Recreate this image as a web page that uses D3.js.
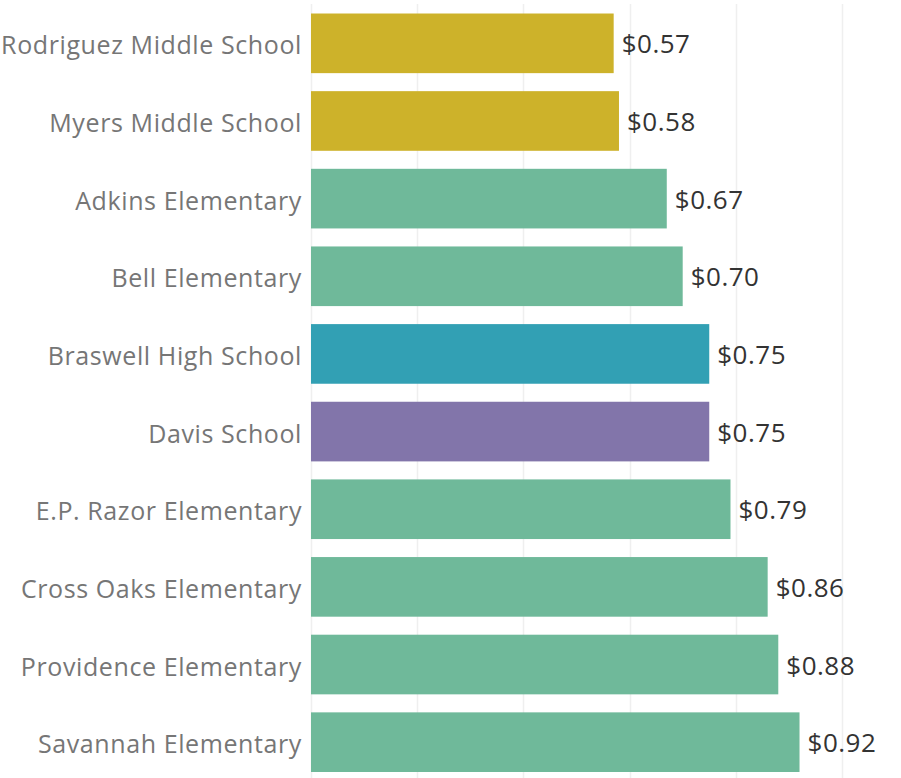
<!DOCTYPE html>
<html><head><meta charset="utf-8">
<script src="https://cdn.jsdelivr.net/npm/d3@7"></script>
<style>body{margin:0;background:#fff}svg{display:block}</style>
</head><body><svg id="c" width="901" height="778"></svg>
<script>
const schools = ["Rodriguez Middle School","Myers Middle School","Adkins Elementary","Bell Elementary","Braswell High School","Davis School","E.P. Razor Elementary","Cross Oaks Elementary","Providence Elementary","Savannah Elementary"];
const values = [0.57,0.58,0.67,0.70,0.75,0.75,0.79,0.86,0.88,0.92];
const types = ["Middle","Middle","Elementary","Elementary","High","Other","Elementary","Elementary","Elementary","Elementary"];
const gridTicks = [0,0.2,0.4,0.6,0.8,1.0];
const typeNames = ["Middle","Elementary","High","Other"];
const typeColors = ["#CDB22A","#6FB99A","#32A0B4","#8275AA"];

const svg = d3.select("#c");
const x = d3.scaleLinear().domain([0,1]).range([311,842]);
const y = d3.scaleBand().domain(schools).range([4.5,781]).paddingInner(0.232).paddingOuter(0.116);
const color = d3.scaleOrdinal().domain(typeNames).range(typeColors);

svg.append("g").selectAll("line").data(gridTicks).join("line")
  .attr("x1",d=>Math.round(x(d))+0.5).attr("x2",d=>Math.round(x(d))+0.5)
  .attr("y1",4).attr("y2",778).attr("stroke","#efefef").attr("stroke-width",1.5);

const data = schools.map((s,i)=>({s,v:values[i],t:types[i]}));
svg.append("g").selectAll("rect").data(data).join("rect")
  .attr("x",x(0)).attr("y",d=>y(d.s)).attr("width",d=>x(d.v)-x(0)).attr("height",y.bandwidth())
  .attr("fill",d=>color(d.t));

const font = "'Open Sans', sans-serif";
svg.append("g").selectAll("text").data(data).join("text")
  .attr("x",302).attr("y",d=>y(d.s)+y.bandwidth()/2+11)
  .attr("text-anchor","end").attr("font-family",font).attr("font-size",25)
  .attr("letter-spacing",0.6)
  .attr("fill","#767676").text(d=>d.s);

svg.append("g").selectAll("text").data(data).join("text")
  .attr("x",d=>x(d.v)+8).attr("y",d=>y(d.s)+y.bandwidth()/2+10)
  .attr("font-family",font).attr("font-size",26).attr("letter-spacing",0.5)
  .attr("fill","#333333").text(d=>"$"+d.v.toFixed(2));
</script></body></html>
